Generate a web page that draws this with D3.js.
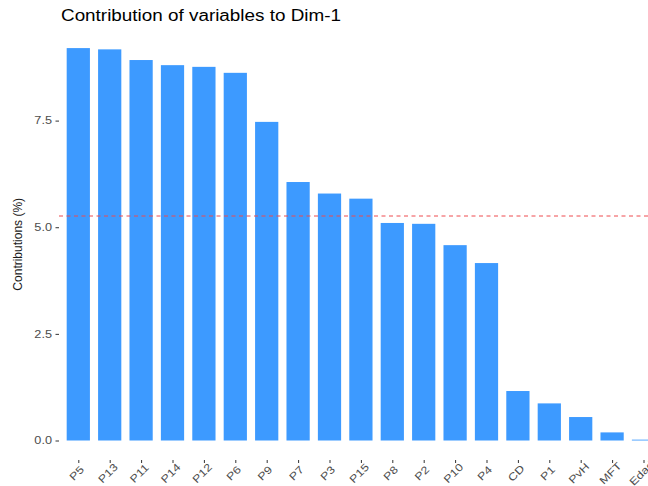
<!DOCTYPE html>
<html>
<head>
<meta charset="utf-8">
<script src="https://cdn.jsdelivr.net/npm/d3@7"></script>
<style>
  html, body { margin: 0; padding: 0; background: #fff; }
  svg { display: block; font-family: "Liberation Sans", Arial, sans-serif; }
</style>
</head>
<body>
<svg id="chart" width="648" height="486"></svg>
<script>
// Variables ordered by their contribution to the first dimension
const variables = ["P5", "P13", "P11", "P14", "P12", "P6", "P9", "P7", "P3", "P15",
                   "P8", "P2", "P10", "P4", "CD", "P1", "PvH", "MFT", "Edad"];
const contributions = [9.20, 9.17, 8.92, 8.80, 8.76, 8.62, 7.47, 6.06, 5.79, 5.67,
                       5.10, 5.08, 4.58, 4.16, 1.16, 0.87, 0.55, 0.19, 0.02];
const yTicks = [0, 2.5, 5, 7.5];
const title = "Contribution of variables to Dim-1";
const yLabel = "Contributions (%)";
// Expected average contribution if all variables were uniform
const reference = 100 / variables.length;

// Horizontal widening applied to the text glyphs
const widen = 1.21;

const svg = d3.select("#chart");

const x = d3.scalePoint().domain(variables).range([78.3, 643.5]);
const step = x.step();
const barW = step * 0.74;
const y = d3.scaleLinear().domain([0, 7.5]).range([440.5, 120.6]);

// Bars
svg.append("g").selectAll("rect")
  .data(variables)
  .join("rect")
  .attr("x", d => x(d) - barW / 2)
  .attr("width", barW)
  .attr("y", (d, i) => y(contributions[i]))
  .attr("height", (d, i) => y(0) - y(contributions[i]))
  .attr("fill", "#3d9aff");

// Reference line
svg.append("line")
  .attr("x1", 59).attr("x2", 648)
  .attr("y1", y(reference)).attr("y2", y(reference))
  .attr("stroke", "#ee4a4f")
  .attr("stroke-width", 1)
  .attr("stroke-dasharray", "4,3.5");

function stretch(sel) {
  sel.each(function () {
    const w = this.getComputedTextLength();
    d3.select(this).attr("textLength", w * widen).attr("lengthAdjust", "spacingAndGlyphs");
  });
}

// Y axis
const yAxis = svg.append("g")
  .attr("transform", "translate(59,0)")
  .call(d3.axisLeft(y).tickValues(yTicks).tickFormat(d3.format(".1f")).tickSize(3.5).tickPadding(3.5));
yAxis.select(".domain").remove();
yAxis.selectAll(".tick line").attr("stroke", "#333");
yAxis.selectAll(".tick text").attr("fill", "#4d4d4d").style("font-size", "10.5px")
  .style("font-family", "'Liberation Sans', Arial, sans-serif")
  .call(stretch);

// X axis
const xAxis = svg.append("g")
  .attr("transform", "translate(0,460)")
  .call(d3.axisBottom(x).tickSize(3).tickSizeOuter(0));
xAxis.select(".domain").remove();
xAxis.selectAll(".tick line").attr("stroke", "#333");
xAxis.selectAll(".tick text")
  .attr("fill", "#4d4d4d")
  .style("font-size", "10.5px")
  .style("font-family", "'Liberation Sans', Arial, sans-serif")
  .attr("text-anchor", "middle")
  .attr("dominant-baseline", "central")
  .attr("y", 0).attr("dy", 0)
  .attr("transform", "translate(-2.5,13) rotate(-45)")
  .call(stretch);

// Axis title
svg.append("text")
  .attr("transform", `translate(22,${y(4.6)}) rotate(-90)`)
  .attr("text-anchor", "middle")
  .attr("fill", "#1a1a1a")
  .style("font-size", "12px")
  .text(yLabel);

// Chart title
svg.append("text")
  .attr("x", 61).attr("y", 20.5)
  .attr("fill", "#000")
  .style("font-size", "15.6px")
  .text(title)
  .call(stretch);
</script>
</body>
</html>
